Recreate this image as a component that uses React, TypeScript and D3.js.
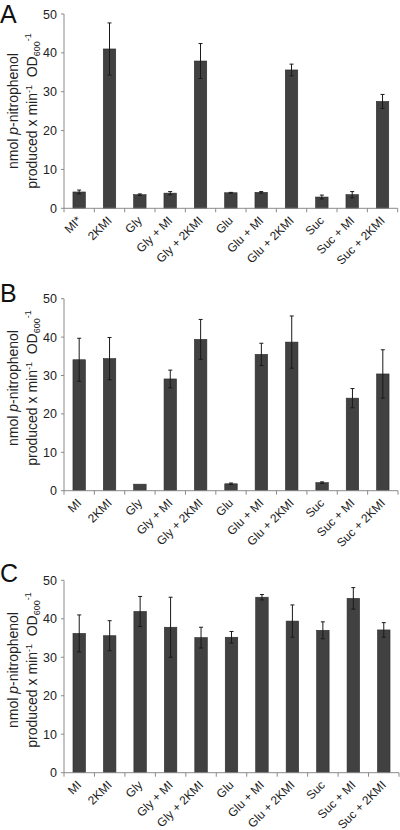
import React from "react";
import * as d3 from "d3";

const categoriesA = ["MI*", "2KMI", "Gly", "Gly + MI", "Gly + 2KMI", "Glu", "Glu + MI", "Glu + 2KMI", "Suc", "Suc + MI", "Suc + 2KMI"];
const categoriesBC = ["MI", "2KMI", "Gly", "Gly + MI", "Gly + 2KMI", "Glu", "Glu + MI", "Glu + 2KMI", "Suc", "Suc + MI", "Suc + 2KMI"];

const valuesA = [4.2, 41.0, 3.5, 3.9, 37.9, 4.0, 4.1, 35.6, 2.9, 3.5, 27.5];
const errorsA = [0.5, 6.7, 0.2, 0.4, 4.5, 0.1, 0.2, 1.5, 0.5, 0.8, 1.8];

const valuesB = [34.1, 34.4, 1.7, 29.1, 39.4, 1.8, 35.5, 38.7, 2.1, 24.1, 30.4];
const errorsB = [5.6, 5.5, 0, 2.3, 5.2, 0.2, 2.9, 6.8, 0.2, 2.5, 6.3];

const valuesC = [36.2, 35.6, 41.9, 37.8, 35.1, 35.2, 45.6, 39.4, 37.0, 45.3, 37.1];
const errorsC = [4.8, 3.9, 3.9, 7.8, 2.7, 1.5, 0.7, 4.2, 2.2, 2.8, 1.9];

const yTicks = [0, 10, 20, 30, 40, 50];
const panelLetters = ["A", "B", "C"];

const FONT = "'Liberation Sans', Arial, Helvetica, sans-serif";

type PanelProps = {
  letter: string;
  cats: string[];
  values: number[];
  errors: number[];
  top: number;
  bottom: number;
  left: number;
  right: number;
  labelCenter: number;
  letterY: number;
};

function Panel({ letter, cats, values, errors, top, bottom, left, right, labelCenter, letterY }: PanelProps) {
  const y = d3.scaleLinear().domain([0, 50]).range([bottom, top]);
  const x = d3.scaleBand<string>().domain(cats).range([left, right]).padding(0);
  const bw = x.bandwidth() * 0.41;
  const axisColor = "#8a8a8a";
  const boundaries = cats.map((c) => x(c) as number).concat([right]);
  return (
    <g>
      <text x={0} y={letterY} fontSize={25} fontFamily={FONT} fill="#111">{letter}</text>
      {/* y-axis label */}
      <g transform={`translate(18,${labelCenter}) rotate(-90)`}>
        <text textAnchor="middle" fontSize={14} fontFamily={FONT} fill="#222">
          nmol <tspan fontStyle="italic">p</tspan>-nitrophenol
        </text>
      </g>
      <g transform={`translate(36.5,${labelCenter}) rotate(-90)`}>
        <text textAnchor="middle" fontSize={14} fontFamily={FONT} fill="#222">
          produced x min<tspan fontSize={9} dy={-5}>-1</tspan>
          <tspan dy={5}>{"\u00a0\u00a0"}OD</tspan>
          <tspan fontSize={9} dy={3}>600</tspan>
          <tspan fontSize={9} dy={-9}>-1</tspan>
        </text>
      </g>
      {/* bars */}
      {cats.map((c, i) => {
        const cx = (x(c) as number) + x.bandwidth() / 2;
        return (
          <rect
            key={"b" + i}
            x={cx - bw / 2}
            y={y(values[i])}
            width={bw}
            height={bottom - y(values[i])}
            fill="#414141"
            stroke="#2a2a2a"
            strokeWidth={0.6}
          />
        );
      })}
      {/* error bars */}
      {cats.map((c, i) => {
        if (!errors[i]) return null;
        const cx = (x(c) as number) + x.bandwidth() / 2;
        const y1 = y(values[i] + errors[i]);
        const y2 = y(values[i] - errors[i]);
        return (
          <g key={"e" + i} stroke="#1a1a1a" strokeWidth={1}>
            <line x1={cx} x2={cx} y1={y1} y2={y2} />
            <line x1={cx - 2} x2={cx + 2} y1={y1} y2={y1} />
            <line x1={cx - 2} x2={cx + 2} y1={y2} y2={y2} />
          </g>
        );
      })}
      {/* y axis */}
      <line x1={left} x2={left} y1={top} y2={bottom} stroke={axisColor} strokeWidth={1} />
      {yTicks.map((t) => (
        <g key={"yt" + t}>
          <line x1={left - 3} x2={left} y1={y(t)} y2={y(t)} stroke={axisColor} strokeWidth={1} />
          <text x={left - 7} y={y(t)} dy="0.36em" textAnchor="end" fontSize={12.5} fontFamily={FONT} fill="#222">
            {t}
          </text>
        </g>
      ))}
      {/* x axis */}
      <line x1={left} x2={right} y1={bottom} y2={bottom} stroke={axisColor} strokeWidth={1} />
      {boundaries.map((bx, i) => (
        <line key={"xt" + i} x1={bx} x2={bx} y1={bottom} y2={bottom + 4} stroke={axisColor} strokeWidth={1} />
      ))}
      {cats.map((c, i) => {
        const cx = (x(c) as number) + x.bandwidth() / 2;
        return (
          <text
            key={"xl" + i}
            transform={`translate(${cx + 3},${bottom + 13}) rotate(-45)`}
            textAnchor="end"
            fontSize={12}
            fontFamily={FONT}
            fill="#222"
          >
            {c}
          </text>
        );
      })}
    </g>
  );
}

export default function App() {
  const panels = [
    { cats: categoriesA, values: valuesA, errors: errorsA, top: 14, bottom: 208.3, right: 397.7, labelCenter: 111, letterY: 23 },
    { cats: categoriesBC, values: valuesB, errors: errorsB, top: 298.7, bottom: 490.7, right: 398, labelCenter: 388, letterY: 302 },
    { cats: categoriesBC, values: valuesC, errors: errorsC, top: 580.3, bottom: 772.7, right: 399, labelCenter: 670, letterY: 582 },
  ];
  return (
    <svg
      width={400}
      height={830}
      viewBox="0 0 400 830"
      style={{ position: "absolute", left: 0, top: 0, background: "#fff" }}
    >
      <rect x={0} y={0} width={400} height={830} fill="#fff" />
      {panels.map((p, i) => (
        <Panel
          key={i}
          letter={panelLetters[i]}
          cats={p.cats}
          values={p.values}
          errors={p.errors}
          top={p.top}
          bottom={p.bottom}
          left={64}
          right={p.right}
          labelCenter={p.labelCenter}
          letterY={p.letterY}
        />
      ))}
    </svg>
  );
}
